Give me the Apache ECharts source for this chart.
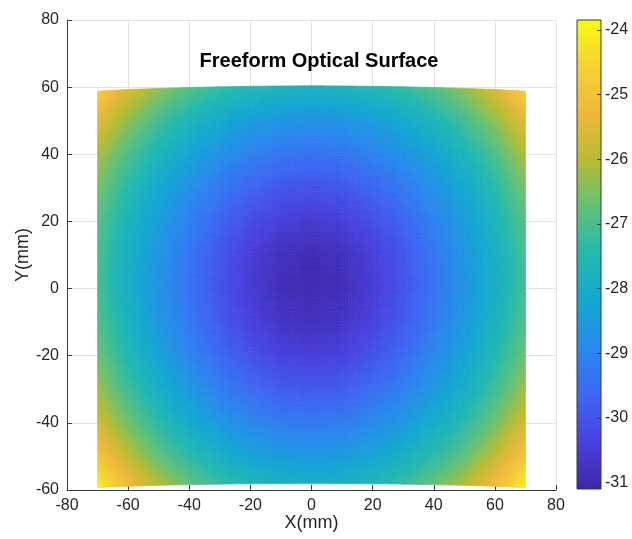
<!DOCTYPE html>
<html>
<head>
<meta charset="utf-8">
<script src="https://cdn.jsdelivr.net/npm/echarts@6/dist/echarts.min.js"></script>
<style>
  html, body { margin: 0; padding: 0; background: #ffffff; }
  #chart { width: 632px; height: 539px; }
</style>
</head>
<body>
<div id="chart"></div>
<script>
// Mesh node positions (mm)
const xNodes = [-70, -60, -50, -40, -30, -20, -10, 0, 10, 20, 30, 40, 50, 60, 70];
const yNodes = [-60, -50, -40, -30, -20, -10, 0, 10, 20, 30, 40, 50, 60];
// Actual y of the upper and lower mesh edge for each x column
const topEdgeY = [58.8, 59.3, 59.6, 59.9, 60.1, 60.25, 60.35, 60.4, 60.35, 60.25, 60.1, 59.9, 59.6, 59.3, 58.8];
const bottomEdgeY = [-59.3, -58.9, -58.6, -58.4, -58.25, -58.1, -58.05, -58.0, -58.05, -58.1, -58.25, -58.4, -58.6, -58.9, -59.3];

// Surface height (sag) at each node, one row per y value
const zYm60 = [-24.00, -25.11, -26.02, -26.71, -27.24, -27.62, -27.85, -27.93, -27.85, -27.62, -27.24, -26.71, -26.02, -25.11, -24.00];
const zYm50 = [-24.93, -25.98, -26.83, -27.48, -28.00, -28.37, -28.60, -28.68, -28.60, -28.37, -28.00, -27.48, -26.83, -25.98, -24.93];
const zYm40 = [-25.69, -26.66, -27.46, -28.11, -28.64, -29.03, -29.29, -29.38, -29.29, -29.03, -28.64, -28.11, -27.46, -26.66, -25.69];
const zYm30 = [-26.23, -27.18, -27.97, -28.62, -29.18, -29.62, -29.92, -30.03, -29.92, -29.62, -29.18, -28.62, -27.97, -27.18, -26.23];
const zYm20 = [-26.64, -27.56, -28.33, -29.01, -29.62, -30.11, -30.43, -30.55, -30.43, -30.11, -29.62, -29.01, -28.33, -27.56, -26.64];
const zYm10 = [-26.92, -27.81, -28.58, -29.27, -29.91, -30.42, -30.74, -30.86, -30.74, -30.42, -29.91, -29.27, -28.58, -27.81, -26.92];
const zY0   = [-27.05, -27.93, -28.68, -29.38, -30.03, -30.55, -30.88, -31.00, -30.88, -30.55, -30.03, -29.38, -28.68, -27.93, -27.05];
const zY10  = [-27.03, -27.90, -28.64, -29.31, -29.96, -30.46, -30.79, -30.94, -30.79, -30.46, -29.96, -29.31, -28.64, -27.90, -27.03];
const zY20  = [-26.87, -27.73, -28.45, -29.09, -29.66, -30.13, -30.43, -30.55, -30.43, -30.13, -29.66, -29.09, -28.45, -27.73, -26.87];
const zY30  = [-26.58, -27.44, -28.15, -28.74, -29.24, -29.65, -29.93, -30.03, -29.93, -29.65, -29.24, -28.74, -28.15, -27.44, -26.58];
const zY40  = [-26.15, -27.00, -27.69, -28.26, -28.72, -29.07, -29.30, -29.38, -29.30, -29.07, -28.72, -28.26, -27.69, -27.00, -26.15];
const zY50  = [-25.51, -26.41, -27.12, -27.67, -28.11, -28.42, -28.61, -28.68, -28.61, -28.42, -28.11, -27.67, -27.12, -26.41, -25.51];
const zY60  = [-24.70, -25.62, -26.35, -26.88, -27.27, -27.53, -27.70, -27.75, -27.70, -27.53, -27.27, -26.88, -26.35, -25.62, -24.70];
const zRows = [zYm60, zYm50, zYm40, zYm30, zYm20, zYm10, zY0, zY10, zY20, zY30, zY40, zY50, zY60];

// Colour limits and colorbar ticks
const colorMin = -31.1;
const colorMax = -23.845;
const colorbarTicks = [-31, -30, -29, -28, -27, -26, -25, -24];

// Parula-style colormap, evenly spaced stops from low to high
const parula = ['#3e26a8', '#4842e0', '#3d66f4', '#2889ee', '#12a8d0', '#22b9ae',
                '#5fc178', '#b6bc32', '#eeb83a', '#f6d232', '#f9fb0e'];

const SUB = 10; // shading subdivisions per mesh cell
const axisColor = '#3a3a3a';
const textColor = '#262626';
const fontFamily = '"Liberation Sans", Arial, Helvetica, sans-serif';

function nodeXY(i, j) {
  const f = (yNodes[j] - yNodes[0]) / (yNodes[yNodes.length - 1] - yNodes[0]);
  return [xNodes[i], bottomEdgeY[i] + f * (topEdgeY[i] - bottomEdgeY[i])];
}

function colorOf(z) {
  let t = (z - colorMin) / (colorMax - colorMin);
  t = Math.max(0, Math.min(1, t));
  return echarts.color.lerp(t, parula);
}

const cells = [];
for (let j = 0; j < yNodes.length - 1; j++) {
  for (let i = 0; i < xNodes.length - 1; i++) {
    cells.push([xNodes[i], yNodes[j], i, j]);
  }
}

function renderCell(params, api) {
  const i = api.value(2), j = api.value(3);
  const p00 = api.coord(nodeXY(i, j));
  const p10 = api.coord(nodeXY(i + 1, j));
  const p01 = api.coord(nodeXY(i, j + 1));
  const p11 = api.coord(nodeXY(i + 1, j + 1));
  const z00 = zRows[j][i], z10 = zRows[j][i + 1], z01 = zRows[j + 1][i], z11 = zRows[j + 1][i + 1];
  const pt = (u, v) => [
    (1 - u) * (1 - v) * p00[0] + u * (1 - v) * p10[0] + (1 - u) * v * p01[0] + u * v * p11[0],
    (1 - u) * (1 - v) * p00[1] + u * (1 - v) * p10[1] + (1 - u) * v * p01[1] + u * v * p11[1]
  ];
  const zAt = (u, v) => (1 - u) * (1 - v) * z00 + u * (1 - v) * z10 + (1 - u) * v * z01 + u * v * z11;
  const children = [];
  for (let a = 0; a < SUB; a++) {
    for (let b = 0; b < SUB; b++) {
      const u0 = a / SUB, u1 = (a + 1) / SUB, v0 = b / SUB, v1 = (b + 1) / SUB;
      const c = colorOf(zAt((u0 + u1) / 2, (v0 + v1) / 2));
      children.push({
        type: 'polygon',
        silent: true,
        shape: { points: [pt(u0, v0), pt(u1, v0), pt(u1, v1), pt(u0, v1)] },
        style: { fill: c, stroke: c, lineWidth: 0.7 }
      });
    }
  }
  return { type: 'group', children: children };
}

function renderColorbar(params, api) {
  const lo = api.coord([0, colorMin]);
  const hi = api.coord([1, colorMax]);
  const stops = parula.map((c, k) => ({ offset: k / (parula.length - 1), color: c }));
  return {
    type: 'rect',
    shape: { x: lo[0], y: hi[1], width: hi[0] - lo[0], height: lo[1] - hi[1] },
    style: {
      fill: new echarts.graphic.LinearGradient(0, 1, 0, 0, stops),
      stroke: axisColor,
      lineWidth: 1
    }
  };
}

const chart = echarts.init(document.getElementById('chart'), null, { renderer: 'canvas' });
chart.setOption({
  backgroundColor: '#ffffff',
  animation: false,
  textStyle: { fontFamily: fontFamily },
  title: {
    text: 'Freeform Optical Surface',
    left: 314,
    textAlign: 'center',
    top: 46,
    textStyle: { fontFamily: fontFamily, fontSize: 20, fontWeight: 'bold', color: '#000000' }
  },
  grid: [
    { left: 67, right: 76, top: 20, bottom: 49 },
    { left: 577, width: 24, top: 20, height: 469 }
  ],
  xAxis: [
    {
      type: 'value', gridIndex: 0, min: -80, max: 80, interval: 20,
      name: 'X(mm)', nameLocation: 'middle', nameGap: 24, nameMoveOverlap: false,
      nameTextStyle: { fontFamily: fontFamily, fontSize: 18, color: textColor },
      axisLine: { show: true, onZero: false, lineStyle: { color: axisColor, width: 1 } },
      axisTick: { show: true, inside: true, length: 5, lineStyle: { color: axisColor } },
      axisLabel: { fontFamily: fontFamily, fontSize: 16, color: textColor, margin: 8 },
      splitLine: { show: true, lineStyle: { color: '#e3e3e3', width: 1 } }
    },
    { type: 'value', gridIndex: 1, min: 0, max: 1, show: false }
  ],
  yAxis: [
    {
      type: 'value', gridIndex: 0, min: -60, max: 80, interval: 20,
      name: 'Y(mm)', nameLocation: 'middle', nameGap: 35, nameRotate: 90, nameMoveOverlap: false,
      nameTextStyle: { fontFamily: fontFamily, fontSize: 18, color: textColor },
      axisLine: { show: true, onZero: false, lineStyle: { color: axisColor, width: 1 } },
      axisTick: { show: true, inside: true, length: 5, lineStyle: { color: axisColor } },
      axisLabel: { fontFamily: fontFamily, fontSize: 16, color: textColor, margin: 8 },
      splitLine: { show: true, lineStyle: { color: '#e3e3e3', width: 1 } }
    },
    {
      type: 'value', gridIndex: 1, min: colorMin, max: colorMax, position: 'right',
      axisLine: { show: false, onZero: false },
      axisTick: { show: true, inside: true, length: 4, customValues: colorbarTicks, lineStyle: { color: axisColor } },
      axisLabel: { fontFamily: fontFamily, fontSize: 16, color: textColor, margin: 4, customValues: colorbarTicks },
      splitLine: { show: false },
      z: 10
    }
  ],
  series: [
    {
      type: 'custom',
      name: 'surface',
      xAxisIndex: 0, yAxisIndex: 0,
      renderItem: renderCell,
      data: cells,
      silent: true,
      clip: false,
      z: 2
    },
    {
      type: 'custom',
      name: 'colorbar',
      xAxisIndex: 1, yAxisIndex: 1,
      renderItem: renderColorbar,
      data: [[0, colorMin]],
      silent: true,
      z: 2
    }
  ]
});
</script>
</body>
</html>
